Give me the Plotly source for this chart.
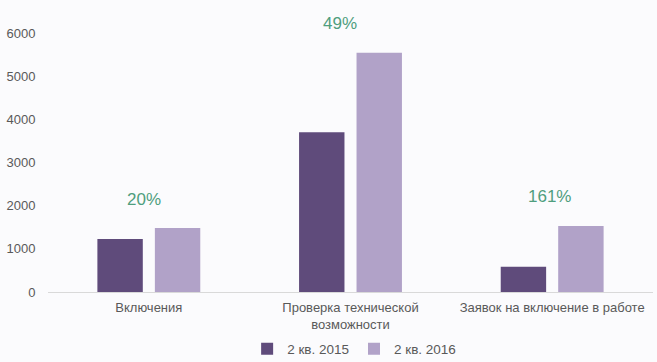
import plotly.graph_objects as go

categories = ["Включения", "Проверка технической<br>возможности", "Заявок на включение в работе"]
series_names = ["2 кв. 2015", "2 кв. 2016"]
values_2015 = [1230, 3700, 585]
values_2016 = [1480, 5540, 1530]
growth_labels = ["20%", "49%", "161%"]

colors = ["#5f4b7b", "#b1a2c8"]
label_xshift = [-5, -11, -3]
font_family = "Liberation Sans, Arial, sans-serif"

fig = go.Figure()
fig.add_trace(go.Bar(x=categories, y=values_2015, name=series_names[0],
                     marker=dict(color=colors[0], line=dict(width=0))))
fig.add_trace(go.Bar(x=categories, y=values_2016, name=series_names[1],
                     marker=dict(color=colors[1], line=dict(width=0))))

for cat, a, b, lab, xs in zip(categories, values_2015, values_2016, growth_labels, label_xshift):
    fig.add_annotation(x=cat, y=max(a, b), text=lab, showarrow=False,
                       yshift=29, xshift=xs, yanchor="middle",
                       font=dict(size=17, color="#4f9e7e", family=font_family))

fig.update_layout(
    width=657, height=362,
    margin=dict(l=48, r=4, t=33, b=70, autoexpand=False),
    paper_bgcolor="#fbfbfd", plot_bgcolor="#fbfbfd",
    barmode="group", bargap=0.43, bargroupgap=0.21,
    font=dict(family=font_family, size=13, color="#595959"),
    showlegend=True,
    legend=dict(orientation="h", x=0.506, xanchor="center",
                yref="container", y=13 / 362, yanchor="middle",
                font=dict(size=13.5, color="#595959"),
                itemwidth=30),
    xaxis=dict(showline=True, linecolor="#d9d9d9", linewidth=1,
               ticks="outside", ticklen=3, tickcolor="rgba(0,0,0,0)",
               tickfont=dict(size=13, color="#595959"), showgrid=False,
               automargin=False),
    yaxis=dict(range=[0, 6000], dtick=1000, showgrid=False, zeroline=False,
               showline=False, ticks="outside", ticklen=9, tickcolor="rgba(0,0,0,0)",
               tickfont=dict(size=13, color="#595959"), automargin=False),
)

fig.write_html("out.html", config={"displayModeBar": False},
               post_script="document.body.style.margin='0';document.body.style.background='#fbfbfd';")
